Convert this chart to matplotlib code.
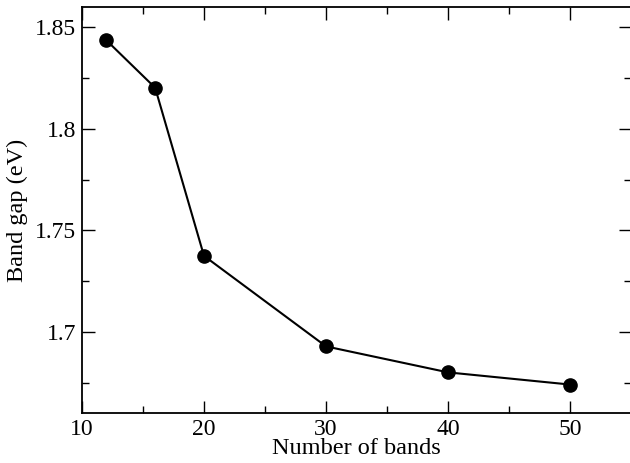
import matplotlib
matplotlib.use("Agg")
import matplotlib.pyplot as plt
from matplotlib.ticker import MultipleLocator

# number of bands vs band gap
bands = [12, 16, 20, 30, 40, 50]
gap = [1.8436, 1.8202, 1.7374, 1.6928, 1.6800, 1.6740]

plt.rcParams['font.family'] = ['Liberation Serif', 'DejaVu Serif']

fig = plt.figure(figsize=(6.3, 4.63), dpi=100)
ax = fig.add_axes([0.130, 0.108, 0.872, 0.877])

ax.plot(bands, gap, color='black', lw=1.5, marker='o', ms=9.5)

ax.set_xlim(10, 55)
ax.set_ylim(1.66, 1.86)
ax.xaxis.set_major_locator(MultipleLocator(10))
ax.xaxis.set_minor_locator(MultipleLocator(5))
ax.yaxis.set_minor_locator(MultipleLocator(0.025))
ax.set_yticks([1.7, 1.75, 1.8, 1.85])
ax.set_yticklabels(['1.7', '1.75', '1.8', '1.85'])
ax.set_xticks([10, 20, 30, 40, 50])

ax.tick_params(which='both', direction='in', top=True, right=True, labelsize=17, width=1)
ax.tick_params(which='major', length=9, pad=4)
ax.tick_params(which='minor', length=5)
for s in ax.spines.values():
    s.set_linewidth(1.3)

ax.set_xlabel('Number of bands', fontsize=17.5, labelpad=-1)
ax.set_ylabel('Band gap (eV)', fontsize=17.5, labelpad=5)

fig.savefig('out.png', dpi=100)
